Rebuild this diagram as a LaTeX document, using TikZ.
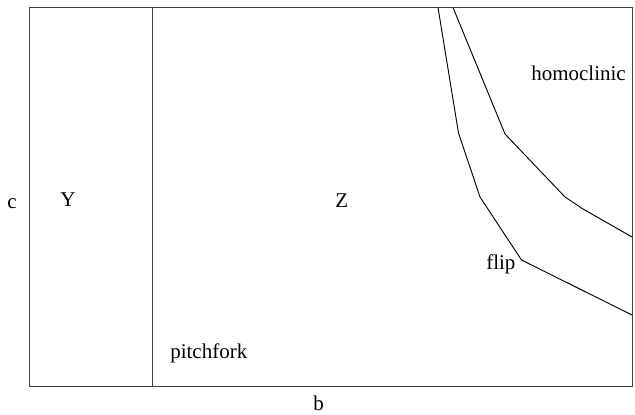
\documentclass[tikz,border=0pt]{standalone}
\usepackage{fontspec}
\setmainfont{Liberation Serif}
\begin{document}
\begin{tikzpicture}[x=0.75pt,y=-0.75pt,
  lbl/.style={inner sep=0pt,anchor=base west,font=\fontsize{15.75}{18}\selectfont},
  frame/.style={draw=black!75,line width=0.7pt},
  curve/.style={draw=black,line width=0.7pt,line join=miter}]
\useasboundingbox (0,0) rectangle (635,414);
\coordinate (bl) at (29.5,386.5);
\coordinate (tr) at (632,7.5);
\draw[frame] (bl) rectangle (tr);
\coordinate (vt) at (152.5,7.5);
\coordinate (vb) at (152.5,386.5);
\draw[frame] (vt) -- (vb);
% flip curve
\coordinate (f0) at (438,7.5);
\coordinate (f1) at (458.5,133);
\coordinate (f2) at (480,197);
\coordinate (f3) at (521.5,260);
\coordinate (f4) at (632,315);
\draw[curve] (f0) -- (f1) -- (f2) -- (f3) -- (f4);
% homoclinic curve
\coordinate (h0) at (453,7.5);
\coordinate (h1) at (505,134);
\coordinate (h2) at (565,197);
\coordinate (h3) at (583,209);
\coordinate (h4) at (632,237);
\draw[curve] (h0) -- (h1) -- (h2) -- (h3) -- (h4);
\node[lbl] (homo) at (531,80) {homoclinic};
\node[lbl] (flip) at (486,269) {flip};
\node[lbl] (pitch) at (170,358) {pitchfork};
\node[lbl] (c) at (7,208) {c};
\node[lbl] (Y) at (60,206) {Y};
\node[lbl] (Z) at (335,207) {Z};
\node[lbl] (b) at (313,410) {b};
\end{tikzpicture}
\end{document}
